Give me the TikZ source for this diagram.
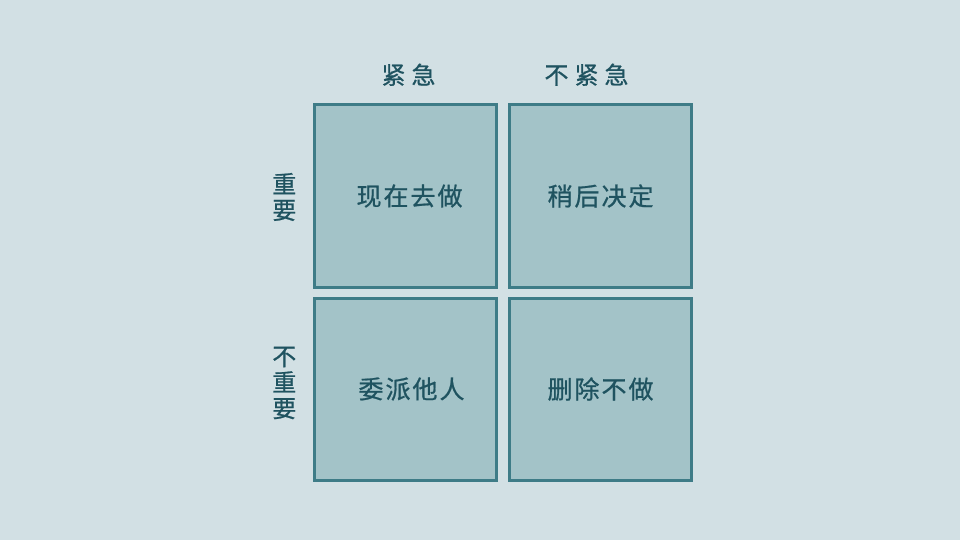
\documentclass[tikz,border=0pt]{standalone}
\usepackage{fontspec}
\setmainfont[FakeBold=0.8]{Noto Sans CJK SC}
\newfontfamily\headfont[LetterSpace=25,FakeBold=0.8]{Noto Sans CJK SC}
\newfontfamily\cellfont[LetterSpace=8,FakeBold=0.8]{Noto Sans CJK SC}
\usetikzlibrary{positioning}
\definecolor{bgblue}{HTML}{D2E0E4}
\definecolor{cellfill}{HTML}{A3C3C8}
\definecolor{cellline}{HTML}{3E7C87}
\definecolor{ink}{HTML}{1F5360}

\begin{document}
\begin{tikzpicture}[
  x=1pt,y=-1pt,
  node distance=11pt and 13pt,
  cell/.style={draw=cellline,fill=cellfill,line width=3pt,minimum size=182pt,inner sep=0pt,outer sep=0pt,text=ink,font=\cellfont\fontsize{25}{30}\selectfont},
  head/.style={text=ink,inner sep=0pt,font=\headfont\fontsize{24}{28}\selectfont},
  side/.style={text=ink,inner sep=0pt,align=center,font=\fontsize{24}{26}\selectfont}
]
  \fill[bgblue] (0,0) rectangle (960,540);
  \useasboundingbox (0,0) rectangle (960,540);
  % quadrants
  \node[cell] (doit) at (405.5,196) {\hspace*{8pt}现在去做};
  \node[cell,right=of doit] (later) {稍后决定};
  \node[cell,below=of doit] (delegate) {\hspace*{12pt}委派他人};
  \node[cell,below=of later] (drop) {删除不做};
  % headers
  \node[head,above=19pt of doit,xshift=3pt] (urgent) {紧急};
  \node[head,above=19pt of later,xshift=-14pt] (noturgent) {不紧急};
  \node[side,left=18pt of doit,yshift=-1pt] (important) {重\\要};
  \node[side,left=18pt of delegate,yshift=6pt] (notimportant) {不\\重\\要};
\end{tikzpicture}
\end{document}
